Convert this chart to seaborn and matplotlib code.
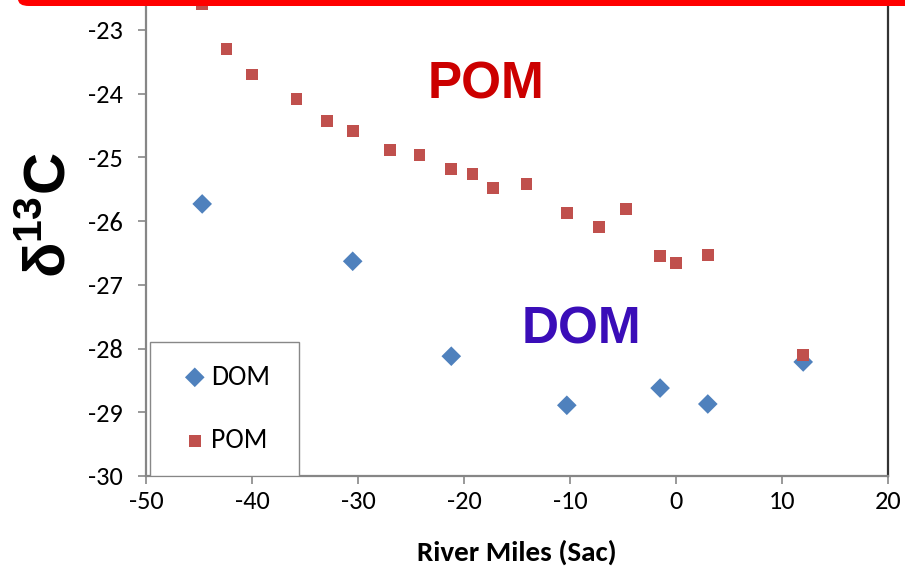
import matplotlib
matplotlib.use("Agg")
import matplotlib.pyplot as plt
import matplotlib.patches as patches
import seaborn as sns
import pandas as pd

# DOM (diamonds) and POM (squares) d13C along the Sacramento river miles
dom_miles = [-44.7, -30.5, -21.2, -10.3, -1.5, 3.0, 12.0]
dom_d13c = [-25.73, -26.63, -28.12, -28.89, -28.62, -28.87, -28.21]

pom_miles = [-44.7, -42.4, -40.0, -35.8, -32.9, -30.5, -27.0, -24.2, -21.2, -19.2,
             -17.3, -14.1, -10.3, -7.3, -4.7, -1.5, 0.0, 3.0, 12.0]
pom_d13c = [-22.6, -23.3, -23.7, -24.08, -24.43, -24.58, -24.88, -24.96, -25.18, -25.26,
            -25.48, -25.42, -25.87, -26.09, -25.81, -26.55, -26.66, -26.53, -28.1]

x_ticks = [-50, -40, -30, -20, -10, 0, 10, 20]
y_ticks = [-30, -29, -28, -27, -26, -25, -24, -23]

NARROW = ["Carlito", "Liberation Sans Narrow", "Lato", "DejaVu Sans"]
BOLD = ["Liberation Sans", "DejaVu Sans"]


def main():
    sns.set_style("white")
    plt.rcParams["font.family"] = NARROW
    plt.rcParams["axes.unicode_minus"] = False
    plt.rcParams["mathtext.fontset"] = "custom"
    plt.rcParams["mathtext.bf"] = "Liberation Sans:bold"
    plt.rcParams["mathtext.rm"] = "Liberation Sans"
    plt.rcParams["text.color"] = "black"
    plt.rcParams["axes.labelcolor"] = "black"
    plt.rcParams["xtick.color"] = "black"
    plt.rcParams["ytick.color"] = "black"

    dom = pd.DataFrame({"miles": dom_miles, "d13c": dom_d13c})
    pom = pd.DataFrame({"miles": pom_miles, "d13c": pom_d13c})

    fig = plt.figure(figsize=(9.05, 5.76), dpi=100)
    ax = fig.add_axes([146 / 905, 100 / 576, 742 / 905, 471.5 / 576])

    sns.scatterplot(data=dom, x="miles", y="d13c", marker="D", s=100, color="#4F81BD",
                    edgecolor="none", label="DOM", ax=ax, zorder=3)
    sns.scatterplot(data=pom, x="miles", y="d13c", marker="s", s=72, color="#C0504D",
                    edgecolor="none", label="POM", ax=ax, zorder=4)

    ax.set_xlim(-50, 20)
    ax.set_ylim(-30, -22.6)
    ax.set_xticks(x_ticks)
    ax.set_yticks(y_ticks)
    ax.tick_params(axis="x", direction="out", length=6, width=1.2, color="#888888",
                   labelsize=19, pad=4, bottom=True)
    ax.tick_params(axis="y", direction="out", length=6, width=1.2, color="#888888",
                   labelsize=19, pad=11, left=True)

    ax.spines["top"].set_visible(False)
    for side in ["left", "bottom"]:
        ax.spines[side].set_color("#868686")
        ax.spines[side].set_linewidth(1.6)
    ax.spines["right"].set_color("#333333")
    ax.spines["right"].set_linewidth(1.6)

    ax.set_xlabel("River Miles (Sac)", fontsize=21, fontweight="bold", va="center")
    ax.xaxis.set_label_coords(0.5, -0.161)
    ax.set_ylabel(r"δ$^{\mathbf{13}}$C", fontsize=42, fontweight="bold", family=BOLD,
                  va="center")
    ax.yaxis.set_label_coords(-0.13, 0.553)

    ax.text(0.458, 0.829, "POM", transform=ax.transAxes, fontsize=37, fontweight="bold",
            family=BOLD, color="#CC0000", ha="center", va="center")
    ax.text(0.587, 0.31, "DOM", transform=ax.transAxes, fontsize=37, fontweight="bold",
            family=BOLD, color="#3A0DB8", ha="center", va="center")

    # legend box sitting on the bottom axis
    ax.add_patch(patches.Rectangle((0.0054, 0.0), 0.2008, 0.284, transform=ax.transAxes,
                                   facecolor="white", edgecolor="#888888", lw=1, zorder=5))
    ax.legend(loc="center left", bbox_to_anchor=(0.0283, 0.142), frameon=False,
              fontsize=20, borderpad=0, handlelength=1.0, handletextpad=0.1,
              labelspacing=1.4).set_zorder(6)

    # red banner edge at the very top
    fig.patches.append(patches.FancyBboxPatch((18 / 905, 570 / 576), 1.0, 0.1,
                                              boxstyle="round,pad=0,rounding_size=0.012",
                                              transform=fig.transFigure, facecolor="#FF0000",
                                              edgecolor="none", zorder=10))

    fig.savefig("out.png", dpi=100)


if __name__ == "__main__":
    main()
